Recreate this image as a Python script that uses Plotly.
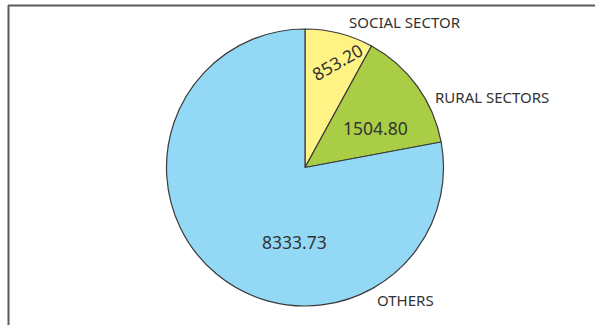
import plotly.graph_objects as go

labels = ["SOCIAL SECTOR", "RURAL SECTORS", "OTHERS"]
values = [853.20, 1504.80, 8333.73]
value_text = ["853.20", "1504.80", "8333.73"]
colors = ["#FFF386", "#A9CE45", "#93D9F6"]

W, H = 595, 325
cx, cy, r = 305, 167.5, 138.5

fig = go.Figure(go.Pie(
    labels=labels, values=values, sort=False, direction="clockwise", rotation=0,
    marker=dict(colors=colors, line=dict(color="#3a3a3a", width=1.2)),
    textinfo="none", hoverinfo="label+value", showlegend=False,
    domain=dict(x=[(cx - r) / W, (cx + r) / W], y=[1 - (cy + r) / H, 1 - (cy - r) / H]),
))

def px(x, y):
    return x / W, 1 - y / H

font_lbl = dict(family="Noto Sans", size=15, color="#333333")
font_val = dict(family="Noto Sans", size=17.5, color="#333333")

# category labels (outside)
lbl_pos = [(405, 22), (492, 97), (405, 300)]
for t, (x, y) in zip(labels, lbl_pos):
    ax, ay = px(x, y)
    fig.add_annotation(x=ax, y=ay, xref="paper", yref="paper", text=t, showarrow=False,
                       font=font_lbl, xanchor="center", yanchor="middle")

# values (inside)
val_pos = [(337, 62), (375, 128), (294, 242)]
val_ang = [-30, 0, 0]
for t, (x, y), a in zip(value_text, val_pos, val_ang):
    ax, ay = px(x, y)
    fig.add_annotation(x=ax, y=ay, xref="paper", yref="paper", text=t, showarrow=False,
                       font=font_val, textangle=a, xanchor="center", yanchor="middle")

# frame lines
fig.add_shape(type="line", xref="paper", yref="paper", x0=8 / W, x1=1, y0=1 - 5.5 / H, y1=1 - 5.5 / H,
              line=dict(color="#5a5a5a", width=2))
fig.add_shape(type="line", xref="paper", yref="paper", x0=8.5 / W, x1=8.5 / W, y0=0, y1=1 - 5 / H,
              line=dict(color="#5a5a5a", width=2))

fig.update_layout(width=W, height=H, margin=dict(l=0, r=0, t=0, b=0),
                  paper_bgcolor="white", plot_bgcolor="white")
fig.write_html("out.html")
